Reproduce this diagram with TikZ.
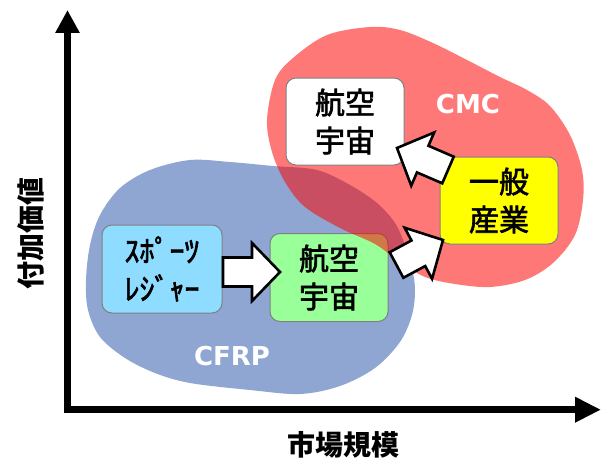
\documentclass[tikz,border=0pt]{standalone}
\usepackage{fontspec}
\newfontfamily\jp{Noto Sans CJK JP}
\newfontfamily\jpm{Noto Sans CJK JP}[FakeBold=2.2]
\newfontfamily\lat{DejaVu Sans}
\usetikzlibrary{calc,arrows.meta}
\definecolor{blobblue}{RGB}{143,166,210}
\definecolor{boxblue}{RGB}{142,220,255}
\definecolor{boxgreen}{RGB}{153,255,153}
\definecolor{boxyellow}{RGB}{255,255,0}
\definecolor{boxedge}{RGB}{128,128,128}
\tikzset{
  catbox/.style={draw=boxedge, line width=1pt, rounded corners=10pt, minimum width=118pt, minimum height=88pt, inner sep=0pt, align=center, font=\jpm\fontsize{30}{38}\selectfont},
  blockarrow/.style={draw=black, fill=white, line width=2.6pt, line join=miter},
  axis/.style={line width=6.5pt},
  axislabel/.style={font=\jp\bfseries\fontsize{28}{30}\selectfont},
  grouplabel/.style={text=white, font=\lat\bfseries\fontsize{26}{28}\selectfont, inner sep=0pt, anchor=base}
}
\newcommand\blockarr[2]{%
  \path ($(#2)!28pt!(#1)$) coordinate (hb);
  \draw[blockarrow] ($(#1)!14.5pt!90:(#2)$) -- ($(hb)!14.5pt!90:(#2)$) -- ($(hb)!29pt!90:(#2)$) -- (#2)
    -- ($(hb)!29pt!-90:(#2)$) -- ($(hb)!14.5pt!-90:(#2)$) -- ($(#1)!14.5pt!-90:(#2)$) -- cycle;}
\begin{document}
\begin{tikzpicture}[x=1pt,y=-1pt]
\useasboundingbox (0,0) rectangle (601,460);
% blue blob (CFRP)
\fill[blobblue] plot[smooth cycle, tension=0.55] coordinates {(86,280) (90,245) (100,215) (120,188) (150,170) (190,160) (230,162) (273,166) (317,170) (350,185) (377,203) (395,223) (405,245) (412,268) (415,290) (412,315) (400,342) (375,368) (340,386) (300,394) (250,390) (190,383) (155,373) (125,358) (100,337) (88,310)};
\node[catbox, fill=boxblue, minimum width=120pt] (sports) at (162,269) {ｽﾎﾟｰﾂ\\ﾚｼﾞｬｰ};
\node[catbox, fill=boxgreen] (aeroA) at (329,277.5) {航空\\宇宙};
% red blob (CMC)
\fill[red, opacity=0.53] plot[smooth cycle, tension=0.55] coordinates {(267,120) (275,80) (293,58) (327,35) (370,27) (400,30) (433,43) (467,60) (500,77) (527,90) (550,106) (570,135) (582,170) (583,200) (575,235) (553,263) (525,280) (490,287) (455,284) (425,277) (400,262) (375,244) (340,228) (305,207) (285,182) (272,152)};
\node[catbox, fill=white, minimum height=87pt] (aeroB) at (345,121.5) {航空\\宇宙};
\node[catbox, fill=boxyellow, minimum height=87pt] (general) at (499,200.5) {一般\\産業};
% block arrows
\coordinate (a1s) at (223,272); \coordinate (a1e) at (280,272);
\coordinate (a2s) at (396.5,265); \coordinate (a2e) at (443,240);
\coordinate (a3s) at (448,170); \coordinate (a3e) at (397,148);
\blockarr{a1s}{a1e}
\blockarr{a2s}{a2e}
\blockarr{a3s}{a3e}
% group labels
\node[grouplabel] (cmc) at (468,113) {CMC};
\node[grouplabel] (cfrp) at (232,365) {CFRP};
% axes
\coordinate (origin) at (67.5,413);
\coordinate (ytop) at (67.5,10);
\coordinate (xstart) at (64.3,409.7);
\coordinate (xend) at (601,409.7);
\draw[axis, -{Triangle[width=23pt,length=23pt]}] (origin) -- (ytop);
\draw[axis, -{Triangle[width=24pt,length=26pt]}] (xstart) -- (xend);
\node[axislabel, rotate=90] (ylab) at (31,233) {付加価値};
\node[axislabel] (xlab) at (343,445) {市場規模};
\end{tikzpicture}
\end{document}
